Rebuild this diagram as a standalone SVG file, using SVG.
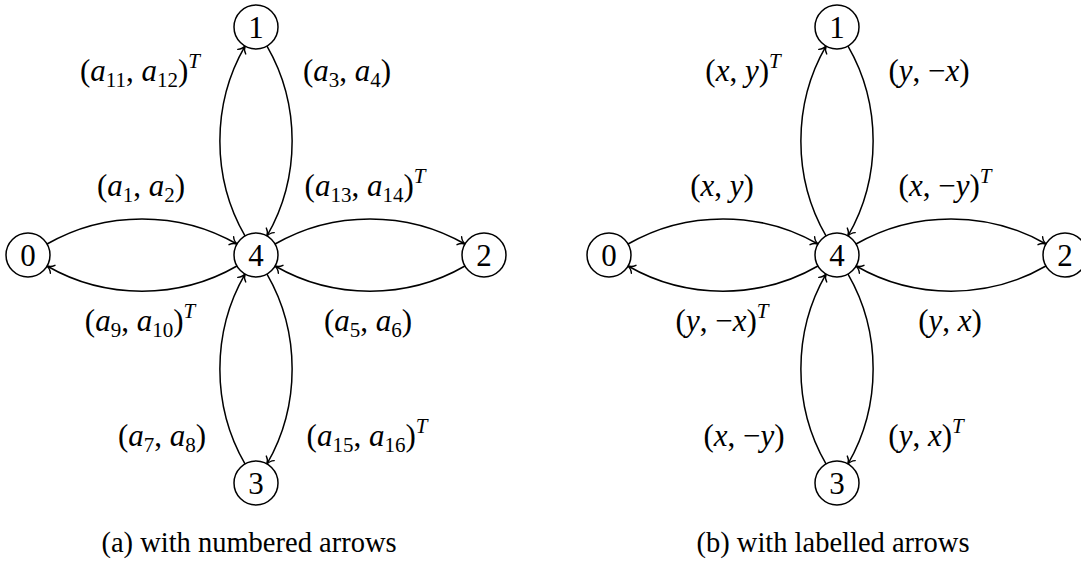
<svg xmlns="http://www.w3.org/2000/svg" width="1081" height="567" viewBox="0 0 1081 567">
<defs>
<marker id="arr" viewBox="-8 -6 10 12" refX="0" refY="0" markerWidth="10" markerHeight="12" orient="auto" markerUnits="userSpaceOnUse">
<path d="M-6.5,-4.6 C-4.5,-1.5 -1.7,-0.3 0.6,0 C-1.7,0.3 -4.5,1.5 -6.5,4.6" fill="none" stroke="#000" stroke-width="1.4" stroke-linecap="round"/>
</marker>
<style>
text{font-family:'Liberation Serif','Times New Roman',serif;fill:#000}
.node circle{fill:#fff;stroke:#000;stroke-width:1.5}
.node text{font-size:31px;text-anchor:middle}
.edges path{fill:none;stroke:#000;stroke-width:1.5;marker-end:url(#arr)}
.lbl{font-size:31px;text-anchor:middle}
.i{font-style:italic}
.s{font-size:21px}
.cap{font-size:28.5px;text-anchor:middle}
</style>
</defs>
<rect width="1081" height="567" fill="#fff"/>

<g id="diagram-a">
<g id="edges-a" class="edges">
<path d="M47.05,244 C105.05,210.5 178.95,210.5 236.95,244"/>
<path d="M236.95,266 C178.95,299.5 105.05,299.5 47.05,266"/>
<path d="M275.05,244 C333.05,210.5 406.95,210.5 464.95,244"/>
<path d="M464.95,266 C406.95,299.5 333.05,299.5 275.05,266"/>
<path d="M245,235.95 C211.5,177.95 211.5,104.05 245,46.05"/>
<path d="M267,46.05 C300.5,104.05 300.5,177.95 267,235.95"/>
<path d="M245,463.95 C211.5,405.95 211.5,332.05 245,274.05"/>
<path d="M267,274.05 C300.5,332.05 300.5,405.95 267,463.95"/>
</g>
<g id="a-n0" class="node"><circle cx="28" cy="255" r="22"/><text x="28" y="265.5">0</text></g>
<g id="a-n1" class="node"><circle cx="256" cy="27" r="22"/><text x="256" y="37.5">1</text></g>
<g id="a-n2" class="node"><circle cx="484" cy="255" r="22"/><text x="484" y="265.5">2</text></g>
<g id="a-n3" class="node"><circle cx="256" cy="483" r="22"/><text x="256" y="493.5">3</text></g>
<g id="a-n4" class="node"><circle cx="256" cy="255" r="22"/><text x="256" y="265.5">4</text></g>
<g id="labels-a">
<text class="lbl" x="140" y="81">(<tspan class="i">a</tspan><tspan class="s" dy="6">11</tspan><tspan dy="-6">, </tspan><tspan class="i">a</tspan><tspan class="s" dy="6">12</tspan><tspan dy="-6">)</tspan><tspan class="s i" dy="-13">T</tspan></text>
<text class="lbl" x="347" y="81">(<tspan class="i">a</tspan><tspan class="s" dy="6">3</tspan><tspan dy="-6">, </tspan><tspan class="i">a</tspan><tspan class="s" dy="6">4</tspan><tspan dy="-6">)</tspan></text>
<text class="lbl" x="141" y="196">(<tspan class="i">a</tspan><tspan class="s" dy="6">1</tspan><tspan dy="-6">, </tspan><tspan class="i">a</tspan><tspan class="s" dy="6">2</tspan><tspan dy="-6">)</tspan></text>
<text class="lbl" x="365" y="196">(<tspan class="i">a</tspan><tspan class="s" dy="6">13</tspan><tspan dy="-6">, </tspan><tspan class="i">a</tspan><tspan class="s" dy="6">14</tspan><tspan dy="-6">)</tspan><tspan class="s i" dy="-13">T</tspan></text>
<text class="lbl" x="140" y="331">(<tspan class="i">a</tspan><tspan class="s" dy="6">9</tspan><tspan dy="-6">, </tspan><tspan class="i">a</tspan><tspan class="s" dy="6">10</tspan><tspan dy="-6">)</tspan><tspan class="s i" dy="-13">T</tspan></text>
<text class="lbl" x="368" y="331">(<tspan class="i">a</tspan><tspan class="s" dy="6">5</tspan><tspan dy="-6">, </tspan><tspan class="i">a</tspan><tspan class="s" dy="6">6</tspan><tspan dy="-6">)</tspan></text>
<text class="lbl" x="162" y="446">(<tspan class="i">a</tspan><tspan class="s" dy="6">7</tspan><tspan dy="-6">, </tspan><tspan class="i">a</tspan><tspan class="s" dy="6">8</tspan><tspan dy="-6">)</tspan></text>
<text class="lbl" x="367" y="446">(<tspan class="i">a</tspan><tspan class="s" dy="6">15</tspan><tspan dy="-6">, </tspan><tspan class="i">a</tspan><tspan class="s" dy="6">16</tspan><tspan dy="-6">)</tspan><tspan class="s i" dy="-13">T</tspan></text>
</g>
<text class="cap" x="249" y="552">(a)  with numbered arrows</text>
</g>

<g id="diagram-b">
<g id="edges-b" class="edges">
<path d="M628.05,244 C686.05,210.5 759.95,210.5 817.95,244"/>
<path d="M817.95,266 C759.95,299.5 686.05,299.5 628.05,266"/>
<path d="M856.05,244 C914.05,210.5 987.95,210.5 1045.95,244"/>
<path d="M1045.95,266 C987.95,299.5 914.05,299.5 856.05,266"/>
<path d="M826,235.95 C792.5,177.95 792.5,104.05 826,46.05"/>
<path d="M848,46.05 C881.5,104.05 881.5,177.95 848,235.95"/>
<path d="M826,463.95 C792.5,405.95 792.5,332.05 826,274.05"/>
<path d="M848,274.05 C881.5,332.05 881.5,405.95 848,463.95"/>
</g>
<g id="b-n0" class="node"><circle cx="609" cy="255" r="22"/><text x="609" y="265.5">0</text></g>
<g id="b-n1" class="node"><circle cx="837" cy="27" r="22"/><text x="837" y="37.5">1</text></g>
<g id="b-n2" class="node"><circle cx="1065" cy="255" r="22"/><text x="1065" y="265.5">2</text></g>
<g id="b-n3" class="node"><circle cx="837" cy="483" r="22"/><text x="837" y="493.5">3</text></g>
<g id="b-n4" class="node"><circle cx="837" cy="255" r="22"/><text x="837" y="265.5">4</text></g>
<g id="labels-b">
<text class="lbl" x="743" y="81">(<tspan class="i">x</tspan>, <tspan class="i">y</tspan>)<tspan class="s i" dy="-13">T</tspan></text>
<text class="lbl" x="929" y="81">(<tspan class="i">y</tspan>, −<tspan class="i">x</tspan>)</text>
<text class="lbl" x="722" y="196">(<tspan class="i">x</tspan>, <tspan class="i">y</tspan>)</text>
<text class="lbl" x="945" y="196">(<tspan class="i">x</tspan>, −<tspan class="i">y</tspan>)<tspan class="s i" dy="-13">T</tspan></text>
<text class="lbl" x="722" y="331">(<tspan class="i">y</tspan>, −<tspan class="i">x</tspan>)<tspan class="s i" dy="-13">T</tspan></text>
<text class="lbl" x="950" y="331">(<tspan class="i">y</tspan>, <tspan class="i">x</tspan>)</text>
<text class="lbl" x="744" y="446">(<tspan class="i">x</tspan>, −<tspan class="i">y</tspan>)</text>
<text class="lbl" x="926" y="446">(<tspan class="i">y</tspan>, <tspan class="i">x</tspan>)<tspan class="s i" dy="-13">T</tspan></text>
</g>
<text class="cap" x="833" y="552">(b)  with labelled arrows</text>
</g>
</svg>
